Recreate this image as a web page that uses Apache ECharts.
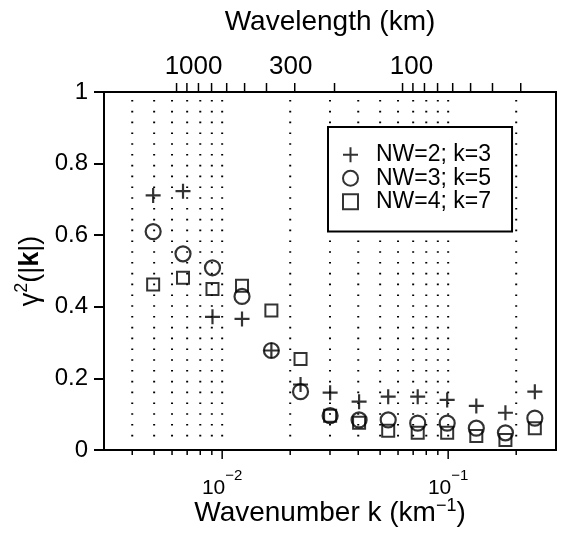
<!DOCTYPE html>
<html>
<head>
<meta charset="utf-8">
<script src="https://cdn.jsdelivr.net/npm/echarts@6/dist/echarts.min.js"></script>
<style>
html, body { margin: 0; padding: 0; background: #fff; }
#chart { width: 561px; height: 541px; }
</style>
</head>
<body>
<div id="chart"></div>
<script>
// wavenumber k (1/km) of each estimate
var wavenumber = [0.00495, 0.00671, 0.00906, 0.01224, 0.01651, 0.02222, 0.03004,
                  0.04035, 0.05428, 0.07332, 0.0990, 0.1332, 0.1792, 0.2418];
// gamma^2(|k|) for the three multitaper settings
var nw2 = [0.711, 0.723, 0.372, 0.366, 0.278, 0.183, 0.160, 0.135, 0.149, 0.149, 0.140, 0.123, 0.104, 0.163];
var nw3 = [0.610, 0.548, 0.509, 0.429, 0.278, 0.163, 0.096, 0.084, 0.084, 0.075, 0.075, 0.061, 0.048, 0.089];
var nw4 = [0.462, 0.481, 0.450, 0.459, 0.390, 0.254, 0.096, 0.076, 0.054, 0.048, 0.048, 0.039, 0.028, 0.061];
var seriesNames = ['NW=2; k=3', 'NW=3; k=5', 'NW=4; k=7'];

// axis ticks
var majorK = [0.01, 0.1];
var minorK = [0.004, 0.005, 0.006, 0.007, 0.008, 0.009,
              0.02, 0.03, 0.04, 0.05, 0.06, 0.07, 0.08, 0.09, 0.2];
var gridK = [0.004, 0.005, 0.006, 0.007, 0.008, 0.009, 0.01,
             0.02, 0.03, 0.04, 0.05, 0.06, 0.07, 0.08, 0.09, 0.1, 0.2];
var wavelengthTicks = [1000, 900, 800, 700, 600, 500, 400, 300, 200,
                       100, 90, 80, 70, 60, 50, 40, 30];
var wavelengthLabels = [1000, 300, 100];

var FONT = '"Liberation Sans", Arial, Helvetica, sans-serif';
var topLabelShift = [17, -4, 9];   // label nudges as in the printed figure (px)

var dom = document.getElementById('chart');
var myChart = echarts.init(dom, null, { renderer: 'canvas' });

function toK(lambda) { return 2 * Math.PI / lambda; }

function pairs(ys) {
    return wavenumber.map(function (k, i) { return [k, ys[i]]; });
}

// short tick marks drawn through the axis scales
function tickSeries(values, yVal, dir, len, width) {
    return {
        type: 'custom',
        silent: true,
        clip: false,
        z: 5,
        data: values.map(function (v) { return [v, yVal]; }),
        renderItem: function (params, api) {
            var p = api.coord([api.value(0), api.value(1)]);
            return {
                type: 'line',
                shape: { x1: p[0], y1: p[1], x2: p[0], y2: p[1] + dir * len },
                style: { stroke: '#000', lineWidth: width }
            };
        }
    };
}

var plusPath = 'path://M0,7L14,7M7,0L7,14';

option = {
    animation: false,
    backgroundColor: '#fff',
    textStyle: { fontFamily: FONT, color: '#000' },
    grid: {
        left: 104, right: 5, top: 92, bottom: 91,
        outerBoundsMode: 'none',
        containLabel: false,
        show: true, borderColor: '#000', borderWidth: 2,
        backgroundColor: 'transparent'
    },
    legend: {
        data: seriesNames,
        orient: 'vertical',
        left: 328, top: 127,
        backgroundColor: '#fff',
        borderColor: '#000', borderWidth: 2, borderRadius: 0,
        padding: [16, 21, 18, 14],
        itemWidth: 15, itemHeight: 15, itemGap: 0,
        selectedMode: false,
        itemStyle: { borderWidth: 2 },
        textStyle: { fontFamily: FONT, fontSize: 23, lineHeight: 23.5, color: '#000', padding: [0, 0, 0, 13] },
        z: 10
    },
    xAxis: [
        {
            type: 'log', logBase: 10, min: 0.003, max: 0.3,
            position: 'bottom',
            axisLine: { show: false },
            axisTick: { show: false },
            splitLine: { show: false },
            axisLabel: {
                showMinLabel: false, showMaxLabel: false,
                fontFamily: FONT, fontSize: 21, color: '#000', margin: 18,
                formatter: function (v) {
                    var e = Math.log10(v);
                    var r = Math.round(e);
                    if (Math.abs(e - r) > 1e-6) return '';
                    return '10{sup|\u2212' + Math.abs(r) + '}';
                },
                rich: { sup: { fontFamily: FONT, fontSize: 15, color: '#000', padding: [0, 0, 26, 0] } }
            },
            name: 'Wavenumber k (km{sup|\u22121})',
            nameLocation: 'middle',
            nameGap: 47,
            nameMoveOverlap: false,
            nameTextStyle: {
                fontFamily: FONT, fontSize: 28, color: '#000',
                rich: { sup: { fontFamily: FONT, fontSize: 18, color: '#000', padding: [0, 0, 15, 0] } }
            }
        },
        {
            type: 'log', logBase: 10, min: 0.003, max: 0.3,
            position: 'top',
            axisLine: { show: false },
            axisTick: { show: false },
            axisLabel: { show: false },
            splitLine: { show: false },
            name: 'Wavelength (km)',
            nameLocation: 'middle',
            nameGap: 56,
            nameTextStyle: { fontFamily: FONT, fontSize: 28, color: '#000' }
        }
    ],
    yAxis: {
        type: 'value', min: 0, max: 1, interval: 0.2,
        axisLine: { show: false },
        axisTick: { show: true, inside: false, length: 10, lineStyle: { color: '#000', width: 2 } },
        splitLine: { show: false },
        axisLabel: { fontFamily: FONT, fontSize: 24, color: '#000', margin: 16 },
        name: '{t|\u03b3}{s|2}{t|(|}{b|k}{t||)}',
        nameLocation: 'middle',
        nameGap: 50,
        nameTextStyle: {
            fontFamily: FONT, fontSize: 27, color: '#000',
            rich: {
                t: { fontFamily: FONT, fontSize: 27, color: '#000' },
                s: { fontFamily: FONT, fontSize: 18, color: '#000', padding: [0, 0, 16, 0] },
                b: { fontFamily: FONT, fontSize: 27, fontWeight: 'bold', color: '#000' }
            }
        }
    },
    series: [
        // dotted vertical grid at 2..9 x 10^n
        {
            type: 'custom',
            silent: true,
            z: 1,
            data: gridK.map(function (k) { return [k, 0]; }),
            renderItem: function (params, api) {
                var top = api.coord([api.value(0), 1]);
                var bot = api.coord([api.value(0), 0]);
                return {
                    type: 'line',
                    shape: { x1: top[0], y1: top[1] + 8, x2: bot[0], y2: bot[1] - 6 },
                    style: { stroke: '#000', lineWidth: 2, lineDash: [1.6, 9.2] }
                };
            }
        },
        tickSeries(majorK, 0, 1, 9, 1.5),
        tickSeries(minorK, 0, 1, 5, 1.5),
        tickSeries(wavelengthTicks.map(toK), 1, -1, 9, 1.5),
        {
            type: 'custom',
            silent: true,
            clip: false,
            z: 5,
            data: wavelengthLabels.map(function (l, i) { return [toK(l), 1, l, i]; }),
            renderItem: function (params, api) {
                var p = api.coord([api.value(0), api.value(1)]);
                return {
                    type: 'text',
                    x: p[0] + topLabelShift[api.value(3)], y: p[1] - 25,
                    style: {
                        text: String(api.value(2)),
                        fontFamily: FONT, fontSize: 26, fill: '#000',
                        align: 'center', verticalAlign: 'middle'
                    }
                };
            }
        },
        {
            name: seriesNames[0], type: 'scatter', data: pairs(nw2),
            symbol: plusPath, symbolSize: 15, silent: true, z: 3,
            itemStyle: { color: 'rgba(0,0,0,0)', borderColor: '#000', borderWidth: 2.2 }
        },
        {
            name: seriesNames[1], type: 'scatter', data: pairs(nw3),
            symbol: 'circle', symbolSize: 15, silent: true, z: 3,
            itemStyle: { color: 'rgba(0,0,0,0)', borderColor: '#000', borderWidth: 2.2 }
        },
        {
            name: seriesNames[2], type: 'scatter', data: pairs(nw4),
            symbol: 'rect', symbolSize: 12, silent: true, z: 3,
            itemStyle: { color: 'rgba(0,0,0,0)', borderColor: '#000', borderWidth: 2 }
        }
    ]
};

if (option && typeof option === 'object') {
    myChart.setOption(option, true);
}
</script>
</body>
</html>
